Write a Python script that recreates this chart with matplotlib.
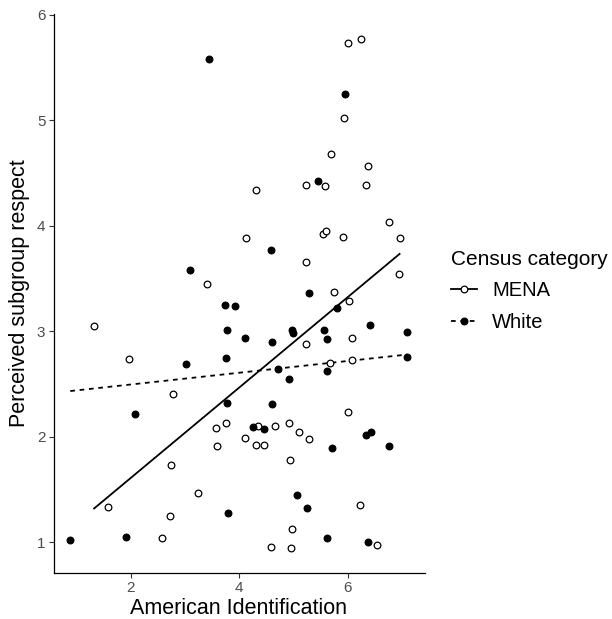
import matplotlib
matplotlib.use("Agg")
import matplotlib.pyplot as plt
import numpy as np
from matplotlib.lines import Line2D

plt.rcParams['font.family'] = ['Liberation Sans', 'DejaVu Sans']

# ---- data ----
mena_x = [6.00, 6.25, 5.94, 5.70, 6.38, 5.23, 5.58, 6.34, 4.31, 6.76,
          4.13, 5.54, 5.61, 5.92, 6.96, 5.23, 3.41, 5.74, 6.94, 1.32,
          6.03, 5.23, 6.09, 1.97, 5.68, 6.09, 2.77, 6.00, 3.57, 3.75,
          4.34, 4.66, 4.91, 5.10, 5.28, 4.11, 3.59, 4.31, 4.45, 2.74,
          4.93, 3.24, 1.57, 2.73, 6.22, 4.97, 2.57, 4.58, 4.96, 6.55]
mena_y = [5.73, 5.77, 5.02, 4.68, 4.57, 4.39, 4.38, 4.39, 4.34, 4.04,
          3.88, 3.92, 3.95, 3.89, 3.88, 3.66, 3.45, 3.37, 3.54, 3.05,
          3.29, 2.88, 2.94, 2.74, 2.70, 2.73, 2.41, 2.24, 2.08, 2.13,
          2.10, 2.10, 2.13, 2.05, 1.98, 1.99, 1.91, 1.92, 1.92, 1.73,
          1.78, 1.47, 1.34, 1.25, 1.35, 1.13, 1.04, 0.96, 0.95, 0.98]

white_x = [3.44, 5.95, 5.46, 4.59, 3.09, 5.28, 3.73, 3.92, 5.81, 6.42,
           3.77, 4.10, 4.61, 4.98, 4.99, 5.56, 5.62, 7.10, 3.01, 3.75,
           7.09, 4.72, 5.62, 4.92, 2.08, 3.77, 4.61, 4.26, 4.45, 5.72,
           6.34, 6.43, 6.77, 3.80, 5.07, 5.25, 0.88, 1.90, 5.62, 6.38]
white_y = [5.58, 5.25, 4.42, 3.77, 3.58, 3.36, 3.25, 3.24, 3.22, 3.06,
           3.01, 2.94, 2.90, 3.01, 2.98, 3.01, 2.93, 2.99, 2.69, 2.75,
           2.76, 2.64, 2.62, 2.55, 2.22, 2.32, 2.31, 2.09, 2.07, 1.89,
           2.02, 2.05, 1.91, 1.28, 1.45, 1.33, 1.02, 1.05, 1.04, 1.00]

# fitted lines (intercept, slope)
mena_fit = (0.757, 0.4276)
white_fit = (2.385, 0.0556)

categories = ["MENA", "White"]
x_ticks = [2, 4, 6]
y_ticks = [1, 2, 3, 4, 5, 6]

fig = plt.figure(figsize=(6.12, 6.19), dpi=100)
ax = fig.add_axes([53.5/612, 1-573/619, (424.5-53.5)/612, (573-13.6)/619])

ms = 4.8
mew = 0.9
lw = 1.3

# regression lines
for xs, fit, ls in [(mena_x, mena_fit, '-'), (white_x, white_fit, '--')]:
    xx = np.array([min(xs), max(xs)])
    yy = fit[0] + fit[1]*xx
    line, = ax.plot(xx, yy, color='black', lw=lw, ls=ls, zorder=1)
    if ls == '--':
        line.set_dashes((2.6, 2.6))

ax.plot(mena_x, mena_y, ls='none', marker='o', ms=ms, mfc='white', mec='black',
        mew=mew, zorder=3)
ax.plot(white_x, white_y, ls='none', marker='o', ms=ms, mfc='black', mec='black',
        mew=mew, zorder=3)

ax.set_xlim(0.57, 7.42)
ax.set_ylim(0.71, 6.01)
ax.set_xticks(x_ticks)
ax.set_yticks(y_ticks)
for s in ['top', 'right']:
    ax.spines[s].set_visible(False)
for s in ['left', 'bottom']:
    ax.spines[s].set_linewidth(0.9)
    ax.spines[s].set_color('black')
ax.tick_params(length=3.3, width=0.8, color='#333333', labelcolor='#4D4D4D',
               labelsize=11, pad=2.5)

ax.set_xlabel("American Identification", fontsize=15.5, color='black')
ax.set_ylabel("Perceived subgroup respect", fontsize=15.5, color='black')
ax.xaxis.set_label_coords(0.5, (573-608)/(573-13.6))
ax.xaxis.label.set_va('center')
ax.yaxis.set_label_coords((20-53.5)/(424.5-53.5), 0.5)
ax.yaxis.label.set_va('center')

handles = [
    Line2D([0], [0], color='black', lw=lw, ls='-', marker='o', ms=ms,
           mfc='white', mec='black', mew=mew),
    Line2D([0], [0], color='black', lw=lw, ls=(0, (2.6, 2.6)), marker='o', ms=ms,
           mfc='black', mec='black', mew=mew),
]
leg = fig.legend(handles, categories, title="Census category",
                 loc='upper left', bbox_to_anchor=(451/612, 1-250/619),
                 frameon=False, fontsize=14.5, title_fontsize=15,
                 handlelength=1.3, handletextpad=0.75, labelspacing=0.62,
                 borderpad=0, borderaxespad=0, alignment='left')

fig.savefig("out.png", dpi=100)
